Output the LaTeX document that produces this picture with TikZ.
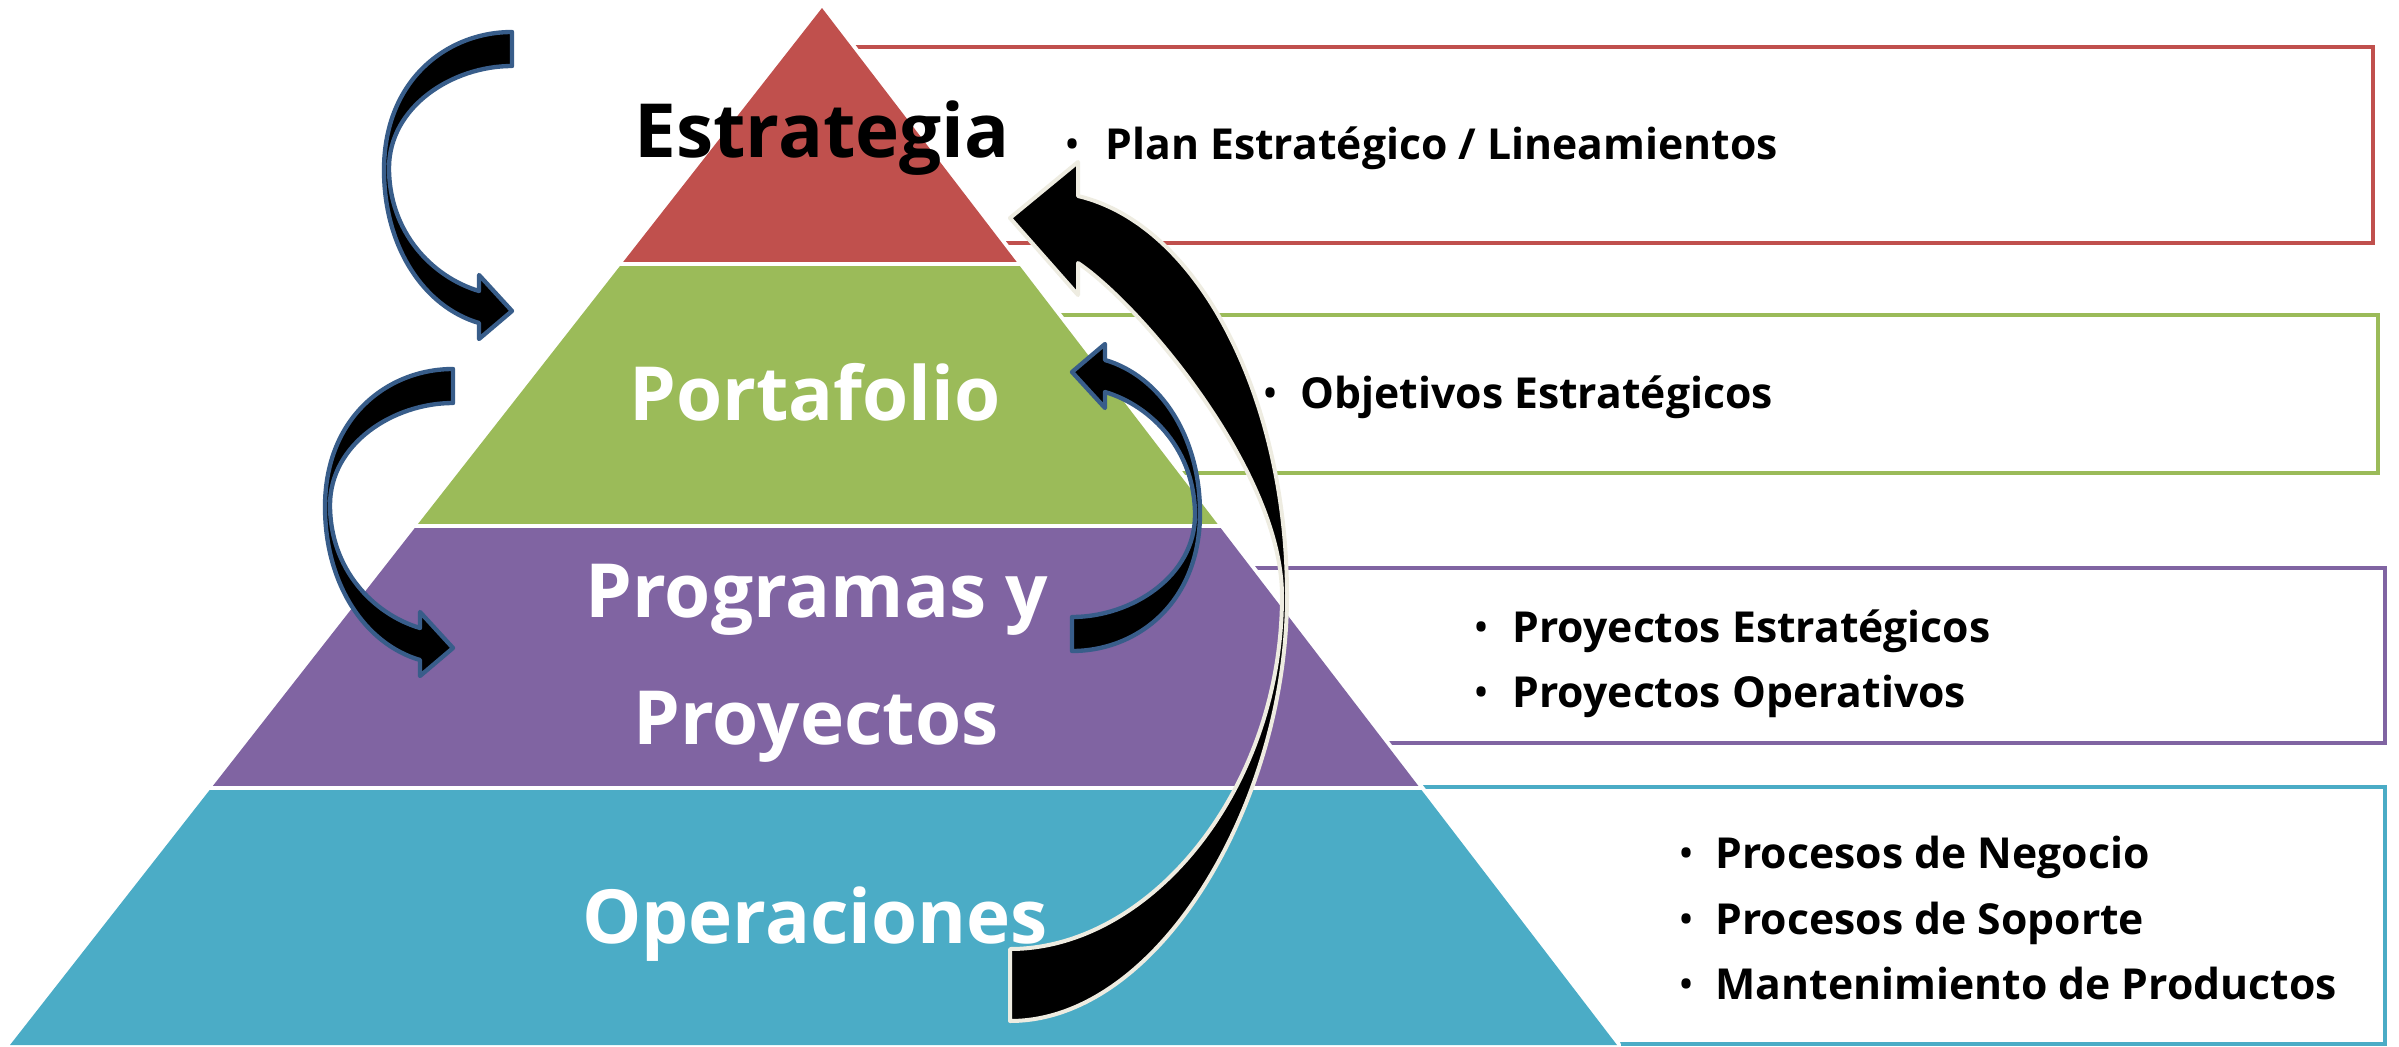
\documentclass[tikz,border=0pt]{standalone}
\usepackage{fontspec}
\setmainfont{Open Sans}
\definecolor{cred}{HTML}{C0504D}
\definecolor{cgreen}{HTML}{9BBB59}
\definecolor{cpurple}{HTML}{8064A2}
\definecolor{cteal}{HTML}{4BACC6}
\definecolor{cblue}{HTML}{385D8A}
\definecolor{civory}{HTML}{EEECE1}
\begin{document}
\begin{tikzpicture}[x=0.3pt,y=-0.3pt,
  boxline/.style={line width=1.35pt},
  title/.style={anchor=base, inner sep=0pt, font=\fontsize{22.4pt}{26pt}\selectfont\bfseries},
  rtext/.style={anchor=base west, inner sep=0pt, font=\fontsize{12.8pt}{15pt}\selectfont\bfseries},
  bul/.style={anchor=base, inner sep=0pt, font=\fontsize{12.8pt}{15pt}\selectfont},
  bluearrow/.style={fill=black, draw=cblue, line width=1.3pt, line join=round},
  bigarrow/.style={fill=black, draw=civory, line width=1.2pt, line join=round},
  curvarrow/.pic={\filldraw[bluearrow] (0,0) .. controls (-65,0) and (-128,48) .. (-128,138)
     .. controls (-128,215) and (-88,275) .. (-33,291) -- (-33,307) -- (0,279) -- (-33,243) -- (-33,259)
     .. controls (-80,245) and (-123,200) .. (-123,136)
     .. controls (-123,75) and (-60,34) .. (0,34) -- cycle;}
]
\useasboundingbox (0,0) rectangle (2399,1047);
\fill[white] (0,0) rectangle (2399,1047);

% right boxes
\draw[boxline, cred] (822,47) rectangle (2373,243);
\draw[boxline, cgreen] (822,315) rectangle (2378,473);
\draw[boxline, cpurple] (822,568) rectangle (2385,743);
\draw[boxline, cteal] (822,787) rectangle (2385,1044);

% pyramid base (white outline)
\filldraw[white, line width=2.4pt, line join=round] (822,8) -- (10,1045) -- (1617,1045) -- cycle;
\begin{scope}
  \clip (0,0) rectangle (2399,261);
  \fill[cred] (822,8) -- (10,1045) -- (1617,1045) -- cycle;
\end{scope}
\begin{scope}
  \clip (0,266) rectangle (2399,523);
  \fill[cgreen] (822,8) -- (10,1045) -- (1617,1045) -- cycle;
\end{scope}
\begin{scope}
  \clip (0,528) rectangle (2399,785);
  \fill[cpurple] (822,8) -- (10,1045) -- (1617,1045) -- cycle;
\end{scope}
\begin{scope}
  \clip (0,790) rectangle (2399,1045);
  \fill[cteal] (822,8) -- (10,1045) -- (1617,1045) -- cycle;
\end{scope}

% titles
\node[title, text=black] (estr) at (822,157) {Estrategia};
\node[title, text=white] (port) at (815,420) {Portafolio};
\node[title, text=white] (prog) at (817,617) {Programas y};
\node[title, text=white] (proy) at (816,744) {Proyectos};
\node[title, text=white] (oper) at (815,943) {Operaciones};

% right texts
\node[bul] (b1) at (1073,159) {•};
\node[rtext] (r1) at (1105,159) {Plan Estratégico / Lineamientos};
\node[bul] (b2) at (1271,408) {•};
\node[rtext] (r2) at (1300,408) {Objetivos Estratégicos};
\node[bul] (b3) at (1482,642) {•};
\node[rtext] (r3) at (1512,642) {Proyectos Estratégicos};
\node[bul] (b4) at (1482,707) {•};
\node[rtext] (r4) at (1512,707) {Proyectos Operativos};
\node[bul] (b5) at (1687,868) {•};
\node[rtext] (r5) at (1715,868) {Procesos de Negocio};
\node[bul] (b6) at (1687,934) {•};
\node[rtext] (r6) at (1715,934) {Procesos de Soporte};
\node[bul] (b7) at (1687,999) {•};
\node[rtext] (r7) at (1715,999) {Mantenimiento de Productos};

% curved arrows
\pic at (512,32) {curvarrow};
\pic at (453,369) {curvarrow};
\pic[rotate=180] at (1072,651) {curvarrow};

\filldraw[bigarrow] (1010,1021) .. controls (1160,1021) and (1287,800) .. (1287,596)
  .. controls (1287,400) and (1200,225) .. (1078,196) -- (1078,162) -- (1010,218) -- (1078,295) -- (1078,263)
  .. controls (1138,303) and (1282,470) .. (1282,596)
  .. controls (1282,790) and (1150,949) .. (1010,949) -- cycle;
\end{tikzpicture}
\end{document}
